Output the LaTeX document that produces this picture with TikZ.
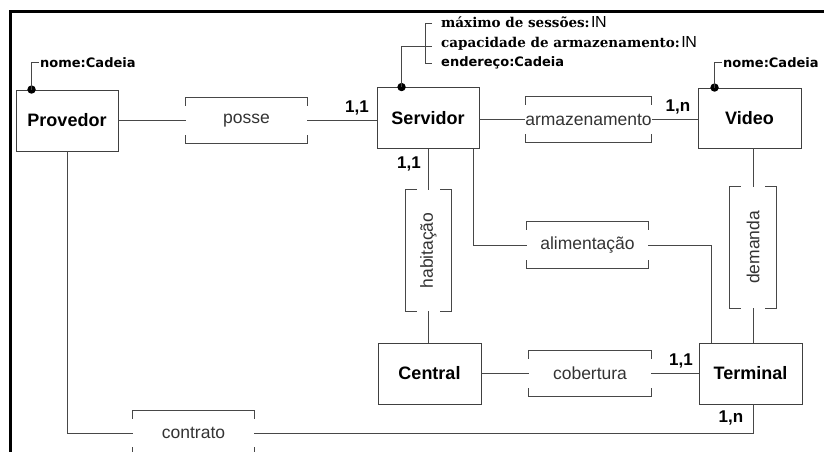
\documentclass[tikz,border=0pt]{standalone}
\usepackage{fontspec}
\setmainfont{Liberation Sans}
\newfontfamily\tagfont{DejaVu Sans}
\newfontfamily\attrfont{DejaVu Serif}
\newcommand{\natset}{{\rmfamily\mdseries\fontsize{16bp}{16bp}\selectfont I\kern-0.6bp N}}
\begin{document}
\begin{tikzpicture}[x=1bp,y=-1bp,
  line/.style={draw=black!72, line width=0.9bp},
  entity/.style={draw=black!75, line width=0.9bp, fill=white, inner sep=0pt,
    minimum width=102bp, minimum height=61bp,
    font=\fontsize{18bp}{20bp}\selectfont\bfseries},
  relation/.style={inner sep=0pt, minimum width=121bp, minimum height=45bp,
    text=black!80, font=\fontsize{17.5bp}{20bp}\selectfont},
  vrelation/.style={relation, minimum width=45bp, minimum height=121bp},
  bracket/.style={draw=black!72, line width=0.9bp},
  card/.style={inner sep=0pt, font=\fontsize{17bp}{20bp}\selectfont\bfseries},
  tagtext/.style={inner sep=0pt, anchor=west,
    font=\tagfont\fontsize{13bp}{15bp}\selectfont\bfseries},
  attrtext/.style={inner sep=0pt, anchor=west,
    font=\attrfont\fontsize{13.5bp}{16bp}\selectfont\bfseries},
  keydot/.style={fill=black}
]
\useasboundingbox (0,0) rectangle (824,452);
\clip (0,0) rectangle (824,452);

% page frame
\draw[line width=2.5bp] (10.5,452) -- (10.5,11.5) -- (824,11.5);

% entities
\node[entity] (prov) at (67,120.5) {Provedor};
\node[entity] (serv) at (428,118)  {Servidor};
\node[entity, minimum width=103bp, minimum height=60bp] (video) at (749.5,118) {Video};
\node[entity, minimum width=103bp] (central) at (429.5,373.5) {Central};
\node[entity, minimum width=103bp] (term) at (750.5,373.5) {Terminal};

% relationships
\node[relation] (posse) at (246.5,120.5) {posse};
\node[relation, minimum width=123bp] (armaz) at (588.5,119.5) {armazenamento};
\node[relation, minimum height=46bp] (alim) at (587.5,245) {alimentação};
\node[relation, minimum width=122bp] (cobert) at (590,373.5) {cobertura};
\node[relation, minimum height=44bp] (contr) at (193.5,433) {contrato};
\node[vrelation] (habit) at (428.5,250.5) {\rotatebox{90}{habitação}};
\node[vrelation, minimum width=46bp] (deman) at (753,247.5) {\rotatebox{90}{demanda}};

% brackets around relationship names
\foreach \n in {posse,armaz,alim,cobert,contr} {
  \draw[bracket] (\n.north west) ++(0,8) -- ++(0,-8) -- (\n.north east) -- ++(0,8);
  \draw[bracket] (\n.south west) ++(0,-8) -- ++(0,8) -- (\n.south east) -- ++(0,-8);
}
\foreach \n in {habit,deman} {
  \draw[bracket] (\n.north west) ++(11,0) -- ++(-11,0) -- (\n.south west) -- ++(11,0);
  \draw[bracket] (\n.north east) ++(-11,0) -- ++(11,0) -- (\n.south east) -- ++(-11,0);
}

% connection points
\coordinate (servA) at ([xshift=-6bp]serv.south east);
\coordinate (termA) at ([xshift=13bp]term.north west);
\coordinate (termC) at ([xshift=2.5bp]term.south);

% connectors
\draw[line] (prov.east) -- (posse.west);
\draw[line] (posse.east) -- (posse.east -| serv.west);
\draw[line] (serv.east |- armaz.west) -- (armaz.west);
\draw[line] (armaz.east) -- (armaz.east -| video.west);
\draw[line] (habit.north) -- (habit.north |- serv.south);
\draw[line] (habit.south) -- (habit.south |- central.north);
\draw[line] (servA) |- (alim.west);
\draw[line] (alim.east) -| (termA);
\draw[line] (deman.north) -- (deman.north |- video.south);
\draw[line] (deman.south) -- (deman.south |- term.north);
\draw[line] (central.east) -- (cobert.west);
\draw[line] (cobert.east) -- (cobert.east -| term.west);
\draw[line] (prov.south) |- (contr.west);
\draw[line] (contr.east) -| (termC);

% cardinalities
\node[card] (c1) at (357,108) {1,1};
\node[card] (c2) at (409,164) {1,1};
\node[card] (c3) at (678,107) {1,n};
\node[card] (c4) at (681,361) {1,1};
\node[card] (c5) at (731,418) {1,n};

% identifier attributes
\coordinate (provK) at ([xshift=16bp]prov.north west);
\coordinate (provT) at (39,62);
\fill[keydot] (provK) circle (4.2);
\draw[line] (provK) |- (provT);
\node[tagtext] (provN) at (40,63) {nome:Cadeia};

\coordinate (videoK) at ([xshift=17bp]video.north west);
\coordinate (videoT) at (722,62);
\fill[keydot] (videoK) circle (4.2);
\draw[line] (videoK) |- (videoT);
\node[tagtext] (videoN) at (723,63) {nome:Cadeia};

% server attributes
\coordinate (servK) at ([xshift=25bp]serv.north west);
\coordinate (servM) at (432,46);
\coordinate (servT1) at (432,23);
\coordinate (servV1) at (425,23);
\coordinate (servV3) at (425,63);
\coordinate (servT3) at (432,63);
\fill[keydot] (servK) circle (4.2);
\draw[line] (servK) |- (servM);
\draw[line] (servT1) -- (servV1) -- (servV3) -- (servT3);
\node[attrtext] (a1) at (441,22) {máximo de sessões:\kern1.5bp\natset};
\node[attrtext] (a2) at (441,43) {capacidade de armazenamento:\kern1.5bp\natset};
\node[tagtext] (a3) at (441,63) {endereço:Cadeia};
\end{tikzpicture}
\end{document}
